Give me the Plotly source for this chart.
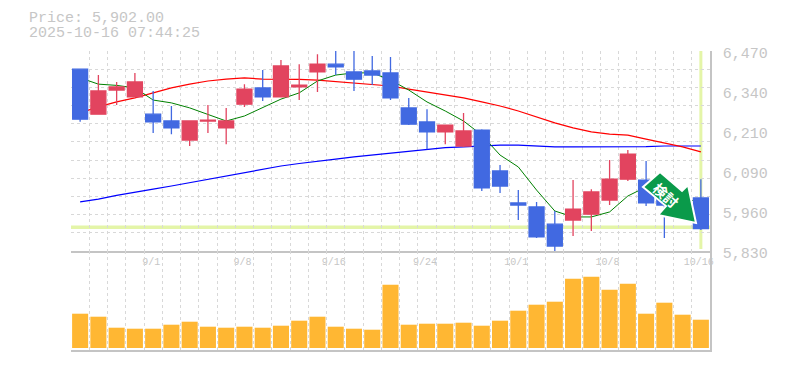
import plotly.graph_objects as go

dates = ["8/26","8/27","8/28","8/29","9/1","9/2","9/3","9/4","9/5","9/8","9/9","9/10","9/11","9/12","9/16","9/17","9/18","9/19","9/22","9/24","9/25","9/26","9/29","9/30","10/1","10/2","10/3","10/6","10/7","10/8","10/9","10/10","10/14","10/15","10/16"]
opens = [6412,6268,6345,6323,6268,6246,6185,6246,6224,6300,6352,6323,6355,6403,6428,6403,6406,6400,6288,6243,6211,6166,6217,6086,5984,5971,5916,5929,5948,5993,6060,6057,6025,5980,6000]
highs = [6412,6393,6371,6400,6342,6294,6246,6297,6288,6364,6409,6441,6428,6460,6470,6470,6454,6451,6320,6284,6233,6272,6220,6105,6025,5987,5958,6057,6028,6121,6153,6118,6073,6025,6060]
lows = [6244,6268,6297,6323,6208,6204,6166,6208,6172,6291,6310,6323,6313,6339,6393,6342,6361,6313,6233,6156,6172,6163,6022,6016,5929,5872,5830,5878,5894,5977,6054,5974,5872,5929,5897]
closes = [6252,6342,6355,6371,6243,6224,6246,6249,6246,6348,6323,6422,6361,6428,6419,6380,6393,6320,6236,6211,6233,6214,6032,6038,5977,5875,5846,5964,6019,6060,6140,5984,5977,5955,5902]
ma_short = [6384,6364,6360,6352,6313,6304,6288,6268,6246,6262,6288,6316,6336,6374,6393,6400,6400,6377,6345,6307,6278,6246,6201,6137,6099,6025,5958,5939,5939,5955,6006,6035,6032,6009,5977]
ma_mid = [6272,6291,6307,6320,6336,6352,6364,6374,6380,6384,6380,6380,6379,6377,6372,6368,6364,6358,6348,6339,6329,6320,6307,6294,6278,6259,6240,6224,6211,6204,6201,6188,6176,6163,6147]
ma_long = [5987,5996,6008,6017,6028,6038,6049,6059,6070,6081,6092,6102,6110,6118,6124,6131,6137,6144,6148,6156,6161,6163,6166,6169,6169,6166,6163,6163,6163,6163,6163,6164,6166,6166,6166]
volumes = [34300,31300,20300,19300,19300,23300,26300,21300,20300,21300,20300,22300,27300,31300,21300,19300,18300,63300,23300,24300,24300,25300,22300,27300,37300,43300,46300,69300,71300,58300,64300,34300,45300,33300,28300]
date_ticks = ["9/1","9/8","9/16","9/24","10/1","10/8","10/16"]
price_ticks = [6470,6342,6214,6086,5958,5830]
price_tick_text = ["6,470","6,340","6,210","6,090","5,960","5,830"]
last_price = 5902
title_lines = ["Price: 5,902.00","2025-10-16 07:44:25"]
signal_text = "検討"

W, H = 785, 370
L, R, T, B = 71, 75, 51, 20
PW, PH = W - L - R, H - T - B
px = lambda x: (x - L) / PW
py = lambda y: 1 - (y - T) / PH
split = py(251)

GRID = "#d8d8d8"
AXIS = "#c4c4c4"
TXT = "#c6c6c6"
FONT = "Liberation Mono"
idx = list(range(len(dates)))
xrange = [-0.5, len(dates) - 0.5]
prange = [5830, 6470]

fig = go.Figure()
for vals, col, wd in ((ma_long, "#0000ff", 1.2), (ma_mid, "#ff0000", 1.2), (ma_short, "#008000", 1)):
    fig.add_trace(go.Scatter(x=idx, y=vals, mode="lines", line=dict(color=col, width=wd), hoverinfo="skip",
                             showlegend=False, xaxis="x", yaxis="y"))
fig.add_trace(go.Candlestick(x=idx, open=opens, high=highs, low=lows, close=closes,
                             increasing=dict(line=dict(color="#e2445f", width=1.3), fillcolor="#e2445f"),
                             decreasing=dict(line=dict(color="#4169e1", width=1.3), fillcolor="#4169e1"),
                             whiskerwidth=0, showlegend=False, xaxis="x3", yaxis="y3"))
fig.add_trace(go.Bar(x=idx, y=volumes, marker=dict(color="#ffb733", line=dict(width=0)), showlegend=False, xaxis="x2", yaxis="y2"))

minor_x = dict(tick0=-0.5, dtick=1, showgrid=True, gridcolor=GRID, gridwidth=1.3, griddash="3px,3px", ticklen=0)
tick_idx = [dates.index(d) for d in date_ticks]
fig.update_layout(
    width=W, height=H, margin=dict(l=L, r=R, t=T, b=B, autoexpand=False), paper_bgcolor="white", plot_bgcolor="white",
    showlegend=False, bargap=0.12, boxgap=0.18, boxgroupgap=0, hovermode=False,
    xaxis=dict(domain=[0, 1], anchor="y", range=xrange, tickmode="array", tickvals=tick_idx, ticktext=date_ticks,
               tickfont=dict(family=FONT, size=10, color=TXT), ticks="", ticklabelshift=-2, showline=True, linecolor=AXIS, linewidth=1.5,
               showgrid=False, zeroline=False, automargin=False, minor=minor_x),
    xaxis2=dict(domain=[0, 1], anchor="y2", range=xrange, showticklabels=False, ticks="", tickmode="array", tickvals=[],
                showline=True, linecolor=AXIS, linewidth=2, showgrid=False, zeroline=False, automargin=False, minor=minor_x),
    xaxis3=dict(overlaying="x", anchor="y3", range=xrange, visible=False, rangeslider=dict(visible=False)),
    yaxis=dict(domain=[split, 1], anchor="x", range=prange, side="right", tickmode="array", tickvals=price_ticks, ticktext=price_tick_text,
               tickfont=dict(family=FONT, size=15, color=TXT), ticks="", ticklabelstandoff=8, ticklabelshift=2, showgrid=False, zeroline=False,
               showline=True, linecolor=AXIS, linewidth=1.5, automargin=False,
               minor=dict(tick0=5830, dtick=640 / 11, showgrid=True, gridcolor=GRID, gridwidth=1.3, griddash="3px,3px", ticklen=0)),
    yaxis2=dict(domain=[0, split], anchor="x2", range=[-2000, 97000], side="right", showticklabels=False, ticks="", showgrid=False, zeroline=False,
                showline=True, linecolor=AXIS, linewidth=1.5, automargin=False),
    yaxis3=dict(overlaying="y", anchor="x3", range=prange, visible=False, side="right"),
)

HL = "#e4f5a8"
fig.add_shape(type="line", xref="x", yref="y", x0=xrange[0], x1=xrange[1], y0=last_price + 4, y1=last_price + 4, line=dict(color=HL, width=3.5), layer="below")
fig.add_shape(type="line", xref="x", yref="paper", x0=idx[-1], x1=idx[-1], y0=py(249), y1=1, line=dict(color=HL, width=3), layer="below")

arrow_px = [(660, 172), (682, 191), (688, 185), (696, 223), (658, 215), (666, 206), (643, 187)]
path = "M " + " L ".join(f"{px(x):.4f},{py(y):.4f}" for x, y in arrow_px) + " Z"
fig.add_shape(type="path", xref="paper", yref="paper", path=path, fillcolor="#0a9a4a", line=dict(color="white", width=2), layer="above")
fig.add_annotation(xref="paper", yref="paper", x=px(666), y=py(195), text=signal_text, textangle=42, showarrow=False, xanchor="center", yanchor="middle",
                   font=dict(family="Noto Sans CJK JP", size=14, color="white", weight="bold"))

for line, y in zip(title_lines, (18, 33)):
    fig.add_annotation(xref="paper", yref="paper", x=px(28), y=py(y), text=line, xanchor="left", yanchor="middle", showarrow=False,
                       height=14, borderpad=0, valign="middle", font=dict(family=FONT, size=15, color=TXT))

fig.write_html("out.html", config={"displayModeBar": False}, post_script="document.body.style.margin='0';")
